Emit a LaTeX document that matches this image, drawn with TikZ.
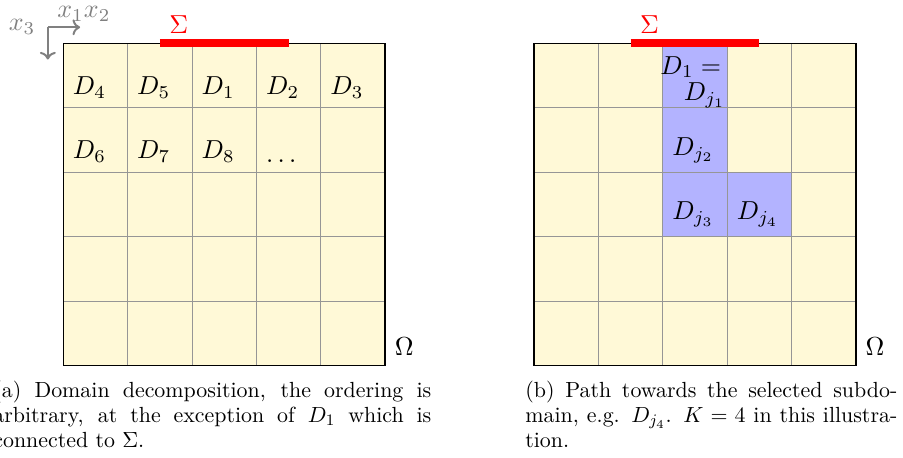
\documentclass[tikz,border=0pt]{standalone}
\usepackage{tikz}
\usetikzlibrary{positioning, arrows.meta, calc}
\definecolor{cdom}{RGB}{255,249,215}
\definecolor{cpath}{RGB}{179,179,255}
\definecolor{csigma}{RGB}{255,0,0}
\definecolor{caxis}{RGB}{128,128,128}
\definecolor{cgrid}{RGB}{150,150,150}

\begin{document}
\begin{tikzpicture}[x=24.77pt, y=24.77pt, scale=1.3,
    lbl/.style={above right, transform shape, inner sep=3.46pt, font=\normalsize},
    captxt/.style={anchor=north west, inner sep=0pt, align=justify, font=\fontsize{10.95}{12.4}\selectfont},
    gridline/.style={cgrid, line width=0.5pt}]

  \useasboundingbox (-0.983,-1.436) rectangle (13.039,5.675);

  % (a) decomposition
  \fill[cdom] (0,0) rectangle (5,5);
  \foreach \k in {1,...,4} {
    \draw[gridline] (\k,0) -- (\k,5);
    \draw[gridline] (0,\k) -- (5,\k);
  }
  \draw[line width=0.8pt] (0,0) rectangle (5,5);
  \draw[csigma, line width=4pt] (1.5,5) -- (3.5,5);
  \node[lbl, text=csigma] (sa) at (1.5,5) {$\Sigma$};
  \node[lbl] (oma) at (5,0) {$\Omega$};

  \foreach \i/\t in {0/4,1/5,2/1,3/2,4/3} \node[lbl] (d\t) at (\i,4) {$D_{\t}$};
  \foreach \i/\t in {0/6,1/7,2/8} \node[lbl] (d\t) at (\i,3) {$D_{\t}$};
  \node[lbl] (ddots) at (3,3) {$\dots$};

  % axes
  \coordinate (o) at (-0.24,5.25);
  \coordinate (e1) at (0.26,5.25);
  \coordinate (e3) at (-0.24,4.75);
  \draw[caxis, line width=1pt, ->] (o) -- (e1);
  \draw[caxis, line width=1pt, ->] (o) -- (e3);
  \node[lbl, anchor=east, inner sep=4.6pt, text=caxis] (x3) at (o) {$x_3$};
  \node[lbl, anchor=south, text=caxis] (x12) at ($(e1)+(0.06,-0.06)$) {$x_1x_2$};

  \node[captxt, text width=219pt] (capa) at (-1.092,-0.241)
    {(a) Domain decomposition, the ordering is\linebreak arbitrary, at the exception of $D_1$ which is\linebreak connected to $\Sigma$.};

  % (b) path
  \begin{scope}[shift={(7.31,0)}]
    \fill[cdom] (0,0) rectangle (5,5);
    \fill[cpath] (2,2) rectangle (3,5) (3,2) rectangle (4,3);
    \foreach \k in {1,...,4} {
      \draw[gridline] (\k,0) -- (\k,5);
      \draw[gridline] (0,\k) -- (5,\k);
    }
    \draw[line width=0.8pt] (0,0) rectangle (5,5);
    \draw[csigma, line width=4pt] (1.5,5) -- (3.5,5);
    \node[lbl, text=csigma] (sb) at (1.5,5) {$\Sigma$};
    \node[lbl] (omb) at (5,0) {$\Omega$};

    \node[lbl, anchor=south east, inner sep=0pt, align=right, font=\fontsize{10}{10.2}\selectfont] (dj1) at (2.98,3.99) {$D_1 =\mkern3mu$\\$D_{j_1}$};
    \node[lbl] (dj2) at (2,3) {$D_{j_2}$};
    \node[lbl] (dj3) at (2,2) {$D_{j_3}$};
    \node[lbl] (dj4) at (3,2) {$D_{j_4}$};

    \node[captxt, text width=186pt] (capb) at (-0.141,-0.241)
      {(b) Path towards the selected subdo-\linebreak main, e.g. $D_{j_4}$. $K=4$ in this illustra-\linebreak tion.};
  \end{scope}
\end{tikzpicture}
\end{document}
